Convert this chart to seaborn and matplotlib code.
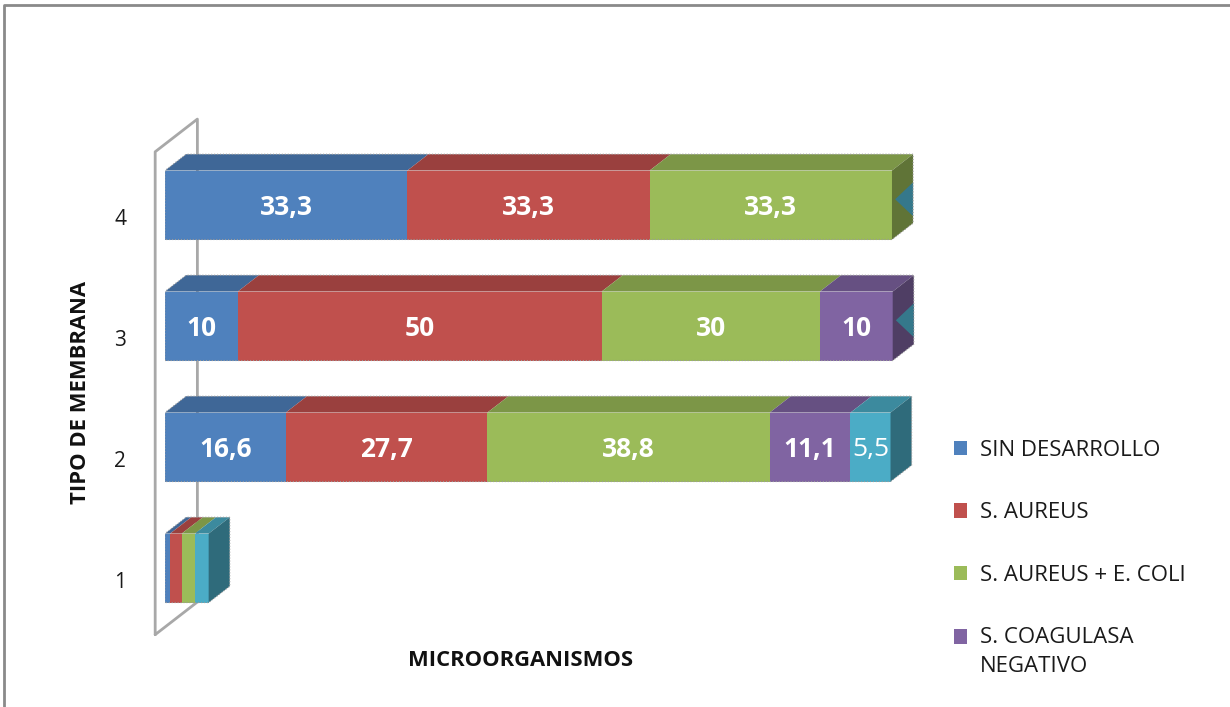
import numpy as np
import pandas as pd
import matplotlib
matplotlib.use("Agg")
import matplotlib.pyplot as plt
import seaborn as sns
from matplotlib.patches import Polygon, Patch
from matplotlib.lines import Line2D
from matplotlib.colors import to_rgb

# Membrane types, top to bottom
membranas = ["4", "3", "2", "1"]

# Percentage of each microorganism group per membrane type
sin_desarrollo = [33.3, 10, 16.6, 0.7]
s_aureus = [33.3, 50, 27.7, 1.6]
s_aureus_e_coli = [33.3, 30, 38.8, 1.8]
s_coagulasa_negativo = [0, 10, 11.1, 0]
e_coli = [0, 0, 5.5, 1.9]

series_names = ["SIN DESARROLLO", "S. AUREUS", "S. AUREUS + E. COLI",
                "S. COAGULASA\nNEGATIVO", "E. COLI"]
series_values = [sin_desarrollo, s_aureus, s_aureus_e_coli,
                 s_coagulasa_negativo, e_coli]
colors = ["#4F81BD", "#C0504D", "#9BBB59", "#8064A2", "#4BACC6"]

sns.set_theme(style="white")
plt.rcParams["font.family"] = ["Open Sans", "DejaVu Sans"]

W, H = 1230, 707
fig = plt.figure(figsize=(W / 100, H / 100), dpi=100)
ax = fig.add_axes([165 / W, 1 - 677 / H, 770 / W, (677 - 84) / H])

vals = np.array(series_values, dtype=float)      # shape (series, membranas)
ends = np.cumsum(vals, axis=0)
starts = ends - vals

BAR_H = 0.57
# Draw the stacked front faces: longest cumulative first so shorter ones sit on top
for k in range(len(series_values) - 1, -1, -1):
    df = pd.DataFrame({"membrana": membranas, "fin": ends[k]})
    sns.barplot(data=df, x="fin", y="membrana", order=membranas, orient="h",
                color=colors[k], saturation=1, width=BAR_H, linewidth=0,
                ax=ax, zorder=2)

ax.set_xlim(0, 770 / 7.277)
ax.set_ylim(3.9, -1.0)

# Depth offset of the pseudo-3D boxes (data units)
DX, DY = 2.9, -0.135


def shade(c, f):
    r, g, b = to_rgb(c)
    return (r * f, g * f, b * f)


for i in range(len(membranas)):
    yt, yb = i - BAR_H / 2, i + BAR_H / 2
    last = None
    for k in range(len(series_values)):
        s, e = starts[k, i], ends[k, i]
        if vals[k, i] <= 0:
            continue
        last = k
        ax.add_patch(Polygon([(s, yt), (e, yt), (e + DX, yt + DY), (s + DX, yt + DY)],
                             closed=True, facecolor=shade(colors[k], 0.8),
                             edgecolor="none", zorder=3))
    if last is not None:
        e = ends[last, i]
        ax.add_patch(Polygon([(e, yt), (e + DX, yt + DY), (e + DX, yb + DY), (e, yb)],
                             closed=True, facecolor=shade(colors[last], 0.62),
                             edgecolor="none", zorder=3))
        # zero-width trailing segments leave a sliver of their own side colour
        if last < len(series_values) - 1:
            tail = shade(colors[-1], 0.7)
            ym = (yt + yb) / 2 + DY / 2
            ax.add_patch(Polygon([(e + DX * 0.15, ym + 0.02), (e + DX, ym - 0.12),
                                  (e + DX, ym + 0.16)], closed=True,
                                 facecolor=tail, edgecolor="none", zorder=3))
        tot = ends[-1, i]
        ax.add_patch(Polygon([(0, yb), (0, yt), (DX, yt + DY), (tot + DX, yt + DY),
                              (tot + DX, yb + DY), (tot, yb)], closed=True,
                             fill=False, edgecolor="#9a9a9a", lw=0.8, ls=":",
                             zorder=4))

# Value labels centred on each segment
for i in range(len(membranas)):
    for k in range(len(series_values)):
        v = vals[k, i]
        if v < 5:
            continue
        txt = f"{v:g}".replace(".", ",")
        ax.text(starts[k, i] + v / 2, i + 0.02, txt, ha="center", va="center",
                color="white", fontsize=19,
                fontweight="normal" if k == 4 else "bold", zorder=5)

# Side wall frame
xf = -1.35
xb = xf + 2 * DX
yft, yfb = -0.44, len(membranas) - 1 + 0.55
ax.plot([xf, xf, xb, xb, xf], [yfb, yft, yft + 2 * DY, yfb + 2 * DY, yfb],
        color="#a8a8a8", lw=2, clip_on=False, zorder=1)

for sp in ax.spines.values():
    sp.set_visible(False)
ax.set_xticks([])
ax.set_xlabel("")
ax.set_ylabel("")
ax.set_yticks(np.arange(len(membranas)) + 0.1, labels=membranas)
ax.tick_params(axis="y", length=0, pad=28, labelsize=15, labelcolor="#1a1a1a")
ax.patch.set_alpha(0)

fig.text(81 / W, 1 - 393 / H, "TIPO DE MEMBRANA", rotation=90, ha="center",
         va="center", fontsize=15.8, fontweight="bold", color="#111111")
fig.text(521 / W, 1 - 660 / H, "MICROORGANISMOS", ha="center", va="center",
         fontsize=15.8, fontweight="bold", color="#111111")

# Legend lists the first four groups (the fifth runs past the chart area)
n_leg = 4
handles = [Patch(facecolor=c, edgecolor="none") for c in colors[:n_leg]]
leg = fig.legend(handles, series_names[:n_leg], loc="upper left",
                 bbox_to_anchor=(954 / W, 1 - 440 / H), frameon=False,
                 fontsize=16, handlelength=0.6, handleheight=0.6,
                 handletextpad=0.55, labelspacing=1.86, borderpad=0,
                 borderaxespad=0)
for t in leg.get_texts():
    t.set_linespacing(1.49)
    t.set_color("#1a1a1a")
# keep the swatch of the two-line entry level with its first line
h4 = leg.legend_handles[3]
h4.set_y(h4.get_y() + 11.2)

# Outer chart border (top and left edges)
fig.add_artist(Line2D([4 / W, 4 / W, 1], [0, 1 - 5 / H, 1 - 5 / H],
                      transform=fig.transFigure, color="#8a8a8a", lw=2))

fig.savefig("out.png", dpi=100)
